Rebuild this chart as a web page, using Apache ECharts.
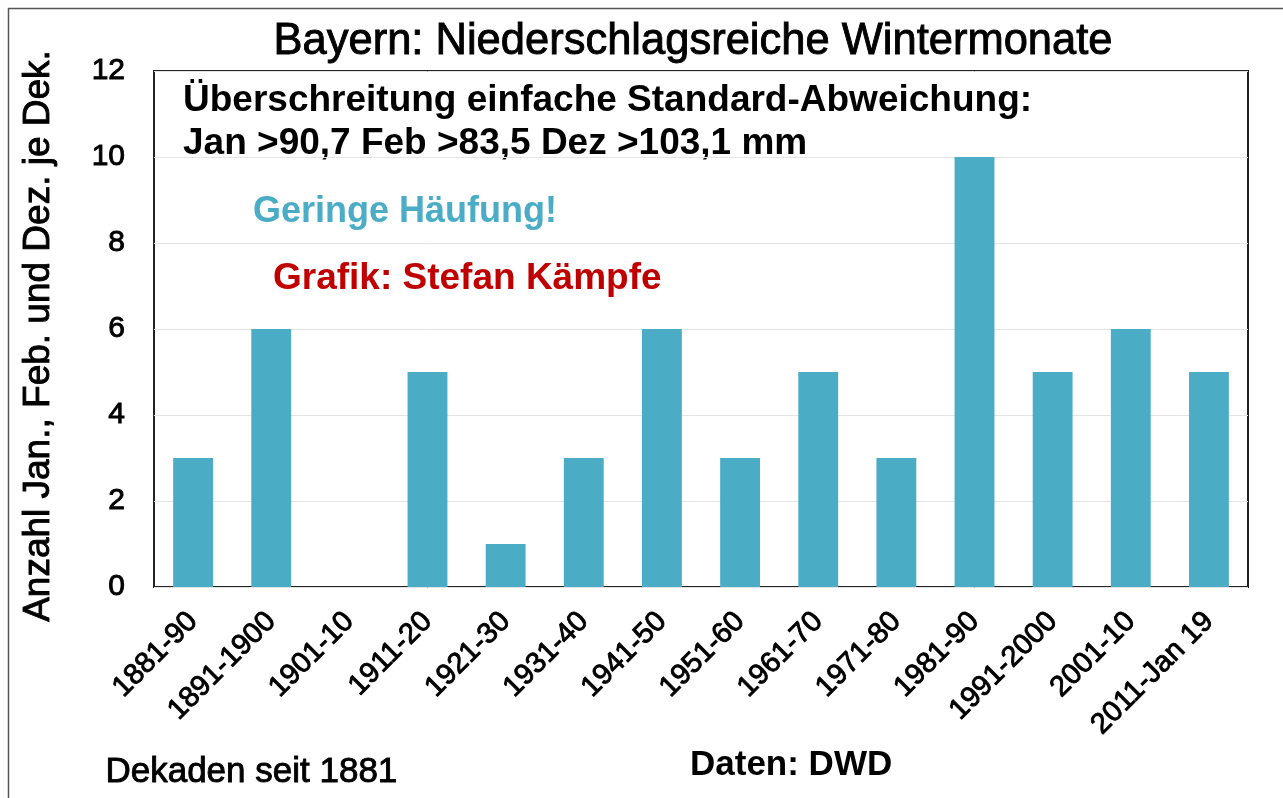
<!DOCTYPE html>
<html><head><meta charset="utf-8">
<script src="https://cdn.jsdelivr.net/npm/echarts@6/dist/echarts.min.js"></script>
<style>html,body{margin:0;padding:0;background:#fff}#c{width:1283px;height:798px}</style>
</head><body><div id="c"></div>
<script>
const categories = ['1881-90','1891-1900','1901-10','1911-20','1921-30','1931-40','1941-50','1951-60','1961-70','1971-80','1981-90','1991-2000','2001-10','2011-Jan 19'];
const counts = [3,6,0,5,1,3,6,3,5,3,10,5,6,5];
const yTicks = [0,2,4,6,8,10,12];

const F = '"Liberation Sans", Arial, sans-serif';
const thick = {textBorderColor:'#000', textBorderWidth:0.9};
const chart = echarts.init(document.getElementById('c'), null, {renderer:'canvas'});
chart.setOption({
  animation:false,
  backgroundColor:'#fff',
  title:{text:'Bayern: Niederschlagsreiche Wintermonate', left:688, top:15, textAlign:'center',
    textStyle:Object.assign({fontFamily:F, fontSize:43.5, fontWeight:'normal', color:'#000'}, thick)},
  grid:{left:154, top:71, right:35, bottom:211, show:true, borderColor:'#222', borderWidth:2},
  xAxis:{type:'category', data:categories,
    axisLine:{show:false}, axisTick:{show:false},
    axisLabel:Object.assign({rotate:45, interval:0, fontFamily:F, fontSize:29, color:'#000', margin:30}, thick)},
  yAxis:{type:'value', min:yTicks[0], max:yTicks[yTicks.length-1], interval:2,
    name:'Anzahl Jan., Feb. und Dez. je Dek.', nameLocation:'middle', nameGap:97, nameRotate:90,
    nameTextStyle:Object.assign({fontFamily:F, fontSize:37, color:'#000', padding:[0,14,0,0]}, thick),
    axisLine:{show:false}, axisTick:{show:false},
    axisLabel:Object.assign({fontFamily:F, fontSize:30, color:'#000', margin:29}, thick),
    splitLine:{lineStyle:{color:'#e4e4e4', width:1}}},
  series:[{type:'bar', data:counts, barWidth:'51%', itemStyle:{color:'#4BACC6'}}],
  graphic:[
    {type:'rect', left:6, top:6, shape:{width:1290, height:800}, style:{fill:null, stroke:'#555', lineWidth:1.5}, silent:true, z:-1},
    {type:'text', left:183, top:82, style:{text:'Überschreitung einfache Standard-Abweichung:', font:'bold 37px '+F, fill:'#000'}},
    {type:'text', left:183, top:125, style:{text:'Jan >90,7 Feb >83,5 Dez >103,1 mm', font:'bold 37px '+F, fill:'#000'}},
    {type:'text', left:253, top:194, style:{text:'Geringe Häufung!', font:'bold 36px '+F, fill:'#4BACC6'}},
    {type:'text', left:273, top:260, style:{text:'Grafik: Stefan Kämpfe', font:'bold 37px '+F, fill:'#C00000'}},
    {type:'text', left:105, top:754, style:{text:'Dekaden seit 1881', font:'35px '+F, fill:'#000', stroke:'#000', lineWidth:0.9}},
    {type:'text', left:690, top:748, style:{text:'Daten: DWD', font:'bold 35px '+F, fill:'#000'}}
  ]
});
</script></body></html>
